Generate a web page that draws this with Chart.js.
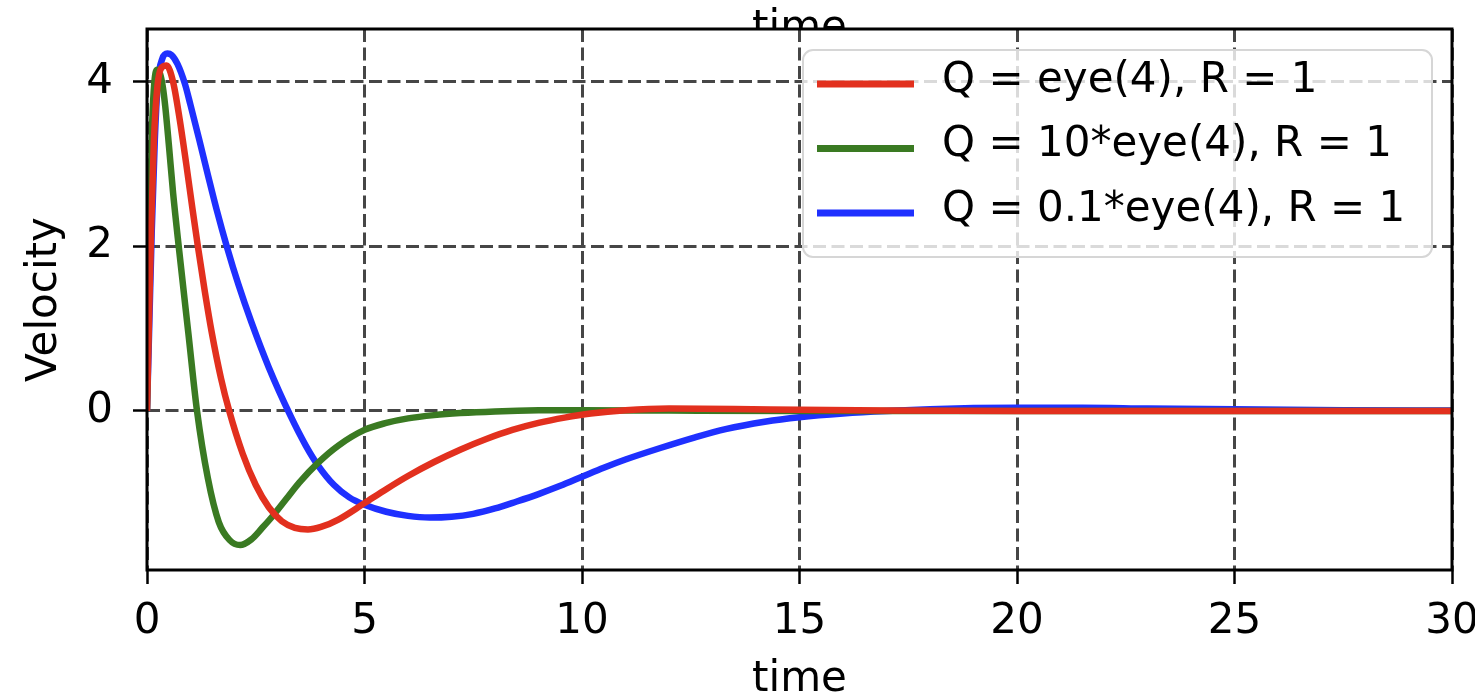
<!DOCTYPE html>
<html><head><meta charset="utf-8">
<script src="https://cdn.jsdelivr.net/npm/chart.js@4/dist/chart.umd.min.js"></script>
<style>html,body{margin:0;padding:0;background:#fff;}canvas{display:block;}</style>
</head><body>
<canvas id="c" width="1475" height="698"></canvas>
<script>
// ---- data ----
const xTicks = [0, 5, 10, 15, 20, 25, 30];
const yTicks = [0, 2, 4];
const xTitle = 'time';
const yTitle = 'Velocity';
const topTitle = 'time';
const seriesLabels = ['Q = eye(4), R = 1', 'Q = 10*eye(4), R = 1', 'Q = 0.1*eye(4), R = 1'];

const redT = [0, 0.05, 0.1, 0.16, 0.24, 0.33, 0.45, 0.6, 0.75, 0.9, 1.05, 1.17, 1.33, 1.49, 1.7, 1.89, 2.2, 2.5, 2.8, 3.1, 3.4, 3.7, 4.0, 4.4, 5.0, 5.5, 6.0, 6.6, 7.2, 7.8, 8.4, 9.0, 9.6, 10.2, 11, 12, 13.5, 15, 17, 20, 25, 30];
const redV = [0, 1.2, 2.3, 3.3, 3.95, 4.17, 4.2, 4.0, 3.55, 3.01, 2.44, 2.0, 1.45, 0.95, 0.4, 0, -0.52, -0.9, -1.17, -1.34, -1.42, -1.44, -1.41, -1.32, -1.12, -0.95, -0.79, -0.62, -0.47, -0.34, -0.23, -0.145, -0.08, -0.03, 0.01, 0.03, 0.025, 0.015, 0.005, 0, 0, 0];

const greenT = [0, 0.04, 0.08, 0.12, 0.17, 0.24, 0.3, 0.36, 0.42, 0.5, 0.6, 0.74, 0.95, 1.15, 1.4, 1.65, 1.9, 2.14, 2.4, 2.65, 2.9, 3.2, 3.5, 3.93, 4.4, 5.0, 5.5, 6.0, 6.6, 7.2, 8, 9, 10, 12, 15, 20, 25, 30];
const greenV = [0, 1.4, 2.6, 3.5, 4.0, 4.15, 4.1, 3.95, 3.7, 3.25, 2.65, 1.95, 0.95, 0, -0.82, -1.35, -1.57, -1.63, -1.56, -1.42, -1.27, -1.07, -0.87, -0.63, -0.42, -0.23, -0.145, -0.09, -0.05, -0.025, -0.005, 0.008, 0.01, 0.005, 0, 0, 0, 0];

const blueT = [0, 0.05, 0.11, 0.18, 0.25, 0.35, 0.47, 0.56, 0.7, 0.87, 1.0, 1.2, 1.4, 1.6, 1.84, 2.1, 2.4, 2.8, 3.3, 3.65, 3.93, 4.3, 4.65, 5.0, 5.5, 6.0, 6.5, 7.0, 7.5, 8.0, 8.5, 9.0, 9.5, 10, 10.5, 11, 11.8, 12.6, 13.3, 14.2, 15, 16, 17, 18, 19, 20, 21.5, 23, 25, 27.5, 30];
const blueV = [0, 1.0, 2.2, 3.3, 4.0, 4.28, 4.345, 4.33, 4.22, 3.98, 3.72, 3.3, 2.87, 2.45, 1.99, 1.54, 1.08, 0.53, -0.06, -0.42, -0.66, -0.9, -1.05, -1.14, -1.225, -1.275, -1.295, -1.285, -1.25, -1.185, -1.1, -1.01, -0.91, -0.8, -0.69, -0.59, -0.45, -0.32, -0.22, -0.13, -0.075, -0.03, 0.0, 0.02, 0.035, 0.04, 0.04, 0.03, 0.02, 0.01, 0.005];

const seriesColors = ['#e2301e', '#3a7a22', '#1f30ff'];

// ---- helpers ----
const FONT = "'DejaVu Sans', sans-serif";
const FS = 42;
function pts(T, V) { return T.map((t, i) => ({x: t, y: V[i]})); }

function roundRectPath(ctx, x, y, w, h, r) {
  ctx.beginPath();
  ctx.moveTo(x + r, y);
  ctx.lineTo(x + w - r, y);
  ctx.arcTo(x + w, y, x + w, y + r, r);
  ctx.lineTo(x + w, y + h - r);
  ctx.arcTo(x + w, y + h, x + w - r, y + h, r);
  ctx.lineTo(x + r, y + h);
  ctx.arcTo(x, y + h, x, y + h - r, r);
  ctx.lineTo(x, y + r);
  ctx.arcTo(x, y, x + r, y, r);
  ctx.closePath();
}

const customDraw = {
  id: 'customDraw',
  beforeDraw(chart) {
    const {ctx, chartArea: a} = chart;
    ctx.save();
    ctx.font = `${FS}px ${FONT}`;
    ctx.fillStyle = '#000';
    ctx.textAlign = 'center';
    ctx.textBaseline = 'alphabetic';
    ctx.fillText(topTitle, (a.left + a.right) / 2, a.top + 11);
    ctx.fillStyle = '#fff';
    ctx.fillRect(a.left, a.top, a.right - a.left, a.bottom - a.top);
    ctx.restore();
  },
  afterDatasetsDraw(chart) {
    const {ctx, chartArea: a} = chart;
    const bx = a.right - 649, by = a.top + 21, bw = 629, bh = 207;
    ctx.save();
    roundRectPath(ctx, bx, by, bw, bh, 10);
    ctx.fillStyle = 'rgba(255,255,255,0.8)';
    ctx.fill();
    ctx.strokeStyle = '#d6d6d6';
    ctx.lineWidth = 2;
    ctx.stroke();
    ctx.font = `${FS}px ${FONT}`;
    ctx.textAlign = 'left';
    ctx.textBaseline = 'middle';
    chart.data.datasets.forEach((ds, i) => {
      const yy = by + 34 + i * 64.5;
      ctx.strokeStyle = ds.borderColor;
      ctx.lineWidth = 7;
      ctx.lineCap = 'butt';
      ctx.beginPath();
      ctx.moveTo(bx + 14, yy);
      ctx.lineTo(bx + 111, yy);
      ctx.stroke();
      ctx.fillStyle = '#000';
      ctx.fillText(ds.label, bx + 139, yy - 3);
    });
    ctx.restore();
  },
  afterDraw(chart) {
    const {ctx, chartArea: a} = chart;
    ctx.save();
    ctx.strokeStyle = '#000';
    ctx.lineWidth = 3;
    ctx.strokeRect(a.left, a.top, a.right - a.left, a.bottom - a.top);
    ctx.restore();
  }
};

const gridOpts = {
  color: '#464646',
  lineWidth: 3,
  tickBorderDash: [],
  tickColor: '#000',
  tickWidth: 2.5,
  tickLength: 14
};
const borderOpts = {display: false, dash: [13, 5.5], dashOffset: 0};

new Chart(document.getElementById('c'), {
  type: 'line',
  data: {
    datasets: [
      {label: seriesLabels[0], data: pts(redT, redV), borderColor: seriesColors[0]},
      {label: seriesLabels[1], data: pts(greenT, greenV), borderColor: seriesColors[1]},
      {label: seriesLabels[2], data: pts(blueT, blueV), borderColor: seriesColors[2]}
    ].map(d => Object.assign(d, {borderWidth: 6.5, pointRadius: 0, fill: false, cubicInterpolationMode: 'monotone'}))
  },
  options: {
    responsive: false,
    animation: false,
    events: [],
    layout: {padding: {top: 29, right: 23, left: 0, bottom: 0}},
    plugins: {legend: {display: false}, title: {display: false}, tooltip: {enabled: false}},
    scales: {
      x: {
        type: 'linear', min: 0, max: 30,
        afterBuildTicks: s => { s.ticks = xTicks.map(v => ({value: v})); },
        afterFit: s => { s.height = 128; s.paddingLeft = 0; s.paddingRight = 0; },
        ticks: {font: {family: FONT, size: FS}, color: '#000', padding: 13, maxRotation: 0, autoSkip: false, callback: v => String(v)},
        grid: gridOpts,
        border: borderOpts,
        title: {display: true, text: xTitle, font: {family: FONT, size: FS}, color: '#000', padding: {top: 0, bottom: -7}}
      },
      y: {
        type: 'linear', min: -1.933, max: 4.644,
        afterBuildTicks: s => { s.ticks = yTicks.map(v => ({value: v})); },
        afterFit: s => { s.width = 147; s.paddingTop = 0; s.paddingBottom = 0; },
        ticks: {font: {family: FONT, size: FS}, color: '#000', padding: 20, autoSkip: false, callback: v => String(v)},
        grid: gridOpts,
        border: borderOpts,
        title: {display: true, text: yTitle, font: {family: FONT, size: FS}, color: '#000', padding: {top: 20, bottom: 0}}
      }
    }
  },
  plugins: [customDraw]
});
</script>
</body></html>
